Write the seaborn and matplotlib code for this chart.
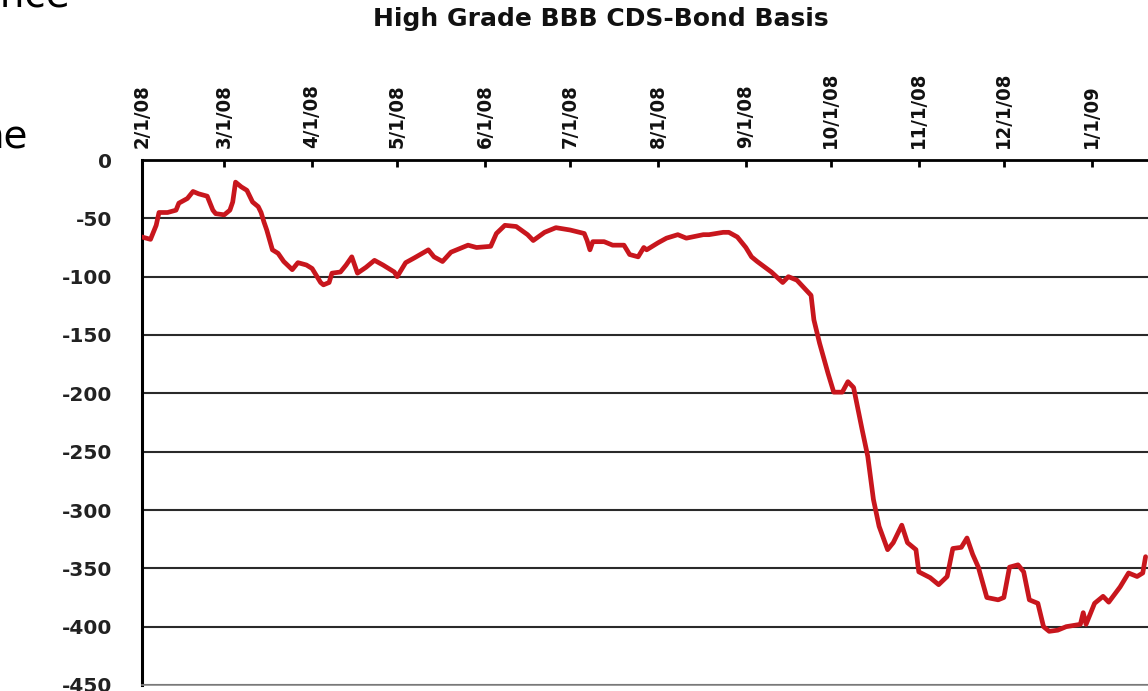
import numpy as np
import pandas as pd
import matplotlib
matplotlib.use("Agg")
import matplotlib.pyplot as plt
import seaborn as sns

# Basis series: calendar days since 2008-02-01 and basis in bp
day_offsets = [
    0, 3, 5, 6, 9, 12, 13, 16, 18, 20, 23, 25, 26, 29, 31, 32, 33, 35, 37, 39,
    41, 42, 43, 44, 46, 48, 50, 53, 55, 58, 60, 63, 64, 66, 67, 70, 72, 74, 76, 79,
    82, 85, 89, 90, 93, 96, 101, 103, 106, 109, 115, 118, 123, 125, 128, 132, 136, 138, 142, 146,
    151, 156, 157, 158, 159, 163, 166, 170, 172, 175, 177, 178, 182, 185, 189, 192, 198, 200, 205, 207,
    210, 213, 215, 217, 222, 226, 228, 231, 236, 237, 239, 242, 244, 247, 249, 251, 254, 256, 258, 260,
    263, 265, 268, 270, 273, 274, 278, 281, 284, 286, 289, 291, 293, 295, 298, 302, 304, 306, 309, 311,
    313, 316, 318, 320, 323, 326, 331, 332, 333, 336, 339, 341, 345, 348, 351, 353, 354,
]
basis_bp = [
    -66, -68, -56, -45, -45, -43, -37, -33, -27, -29, -31, -43, -46, -47, -43, -36, -19, -23, -26, -36,
    -40, -45, -53, -60, -77, -80, -87, -94, -88, -90, -93, -105, -107, -105, -97, -96, -90, -83, -97, -92,
    -86, -90, -96, -100, -88, -84, -77, -83, -87, -79, -73, -75, -74, -63, -56, -57, -64, -69, -62, -58,
    -60, -63, -69, -77, -70, -70, -73, -73, -81, -83, -75, -77, -71, -67, -64, -67, -64, -64, -62, -62,
    -66, -75, -83, -87, -96, -105, -100, -103, -116, -137, -157, -183, -199, -199, -190, -195, -231, -254, -291, -314,
    -334, -328, -313, -328, -334, -353, -358, -364, -357, -333, -332, -324, -338, -349, -375, -377, -375, -349, -347, -353,
    -377, -380, -400, -404, -403, -400, -398, -388, -398, -380, -374, -379, -366, -354, -357, -354, -340,
]

month_ticks = ["2008-02-01", "2008-03-01", "2008-04-01", "2008-05-01", "2008-06-01", "2008-07-01",
               "2008-08-01", "2008-09-01", "2008-10-01", "2008-11-01", "2008-12-01", "2009-01-01"]
month_labels = ["2/1/08", "3/1/08", "4/1/08", "5/1/08", "6/1/08", "7/1/08",
                "8/1/08", "9/1/08", "10/1/08", "11/1/08", "12/1/08", "1/1/09"]
y_ticks = [0, -50, -100, -150, -200, -250, -300, -350, -400, -450]
y_labels = ["0", "-50", "-100", "-150", "-200", "-250", "-300", "-350", "-400", "-450"]

start = pd.Timestamp("2008-02-01")
df = pd.DataFrame({
    "date": start + pd.to_timedelta(day_offsets, unit="D"),
    "basis": basis_bp,
})

sns.set_style("white")
plt.rcParams["font.family"] = ["DejaVu Sans"]
plt.rcParams["axes.unicode_minus"] = False

W, H = 1148, 691
fig = plt.figure(figsize=(W / 100, H / 100), dpi=100)
fig.patch.set_facecolor("white")

# Plot area: left edge at 2/1/08, x scale 2.835 px/day, y from 0 down to -450
x0_px, top_px, bot_px = 142, 160, 685
span_days = 366
ax = fig.add_axes([x0_px / W, (H - bot_px) / H, span_days * 2.835 / W, (bot_px - top_px) / H])

sns.lineplot(data=df, x="date", y="basis", ax=ax, color="#c8161d", linewidth=3.4, zorder=3)

ax.set_xlim(start, start + pd.Timedelta(days=span_days))
ax.set_ylim(-450, 0)

# Month ticks on the top axis, labels rotated
ax.xaxis.tick_top()
ax.set_xticks(pd.to_datetime(month_ticks))
ax.set_xticklabels(month_labels, rotation=90, fontsize=14.5, fontweight="bold",
                   fontstretch="condensed", color="#111111")
ax.tick_params(axis="x", direction="in", length=5, width=2, color="black", pad=9)

ax.set_yticks(y_ticks)
ax.set_yticklabels(y_labels, fontsize=14.5, fontweight="bold", color="#222222")
ax.tick_params(axis="y", direction="out", length=8.5, width=1.6, color="black", pad=13)

ax.set_xlabel("")
ax.set_ylabel("")

# Horizontal gridlines every 50
ax.yaxis.grid(True, color="#2a2a2a", linewidth=1.5)
ax.xaxis.grid(False)
ax.set_axisbelow(True)

ax.spines["top"].set_color("black")
ax.spines["top"].set_linewidth(2)
ax.spines["left"].set_color("black")
ax.spines["left"].set_linewidth(2.2)
ax.spines["bottom"].set_color("#8a8a8a")
ax.spines["bottom"].set_linewidth(1.2)
ax.spines["right"].set_visible(False)

fig.text(601 / W, 1 - 19 / H, "High Grade BBB CDS-Bond Basis", ha="center", va="center",
         fontsize=18, fontweight="bold", color="#111111")

# Slide body text at the left margin
fig.text(70 / W, 1 - 8 / H, "ance", ha="right", va="baseline", fontsize=28, color="black")
fig.text(28 / W, 1 - 147 / H, "he", ha="right", va="baseline", fontsize=28, color="black")

fig.savefig("out.png", dpi=100, facecolor="white")
